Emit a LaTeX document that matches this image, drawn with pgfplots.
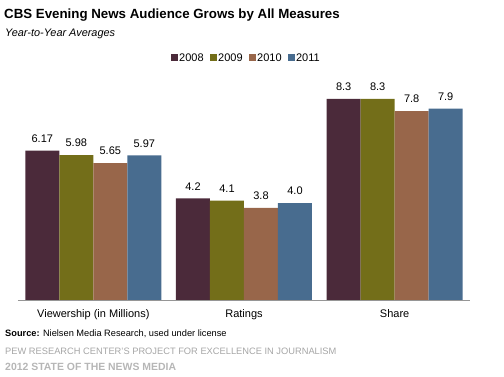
\documentclass[border=0pt]{standalone}
\usepackage{pgfplots}
\pgfplotsset{compat=1.18}
\usepackage{fontspec}
\setmainfont{Liberation Sans}
\definecolor{c08}{RGB}{75,42,58}
\definecolor{c09}{RGB}{115,110,25}
\definecolor{c10}{RGB}{152,102,74}
\definecolor{c11}{RGB}{72,108,143}
\definecolor{axgray}{RGB}{150,150,150}
\definecolor{ftgray}{RGB}{165,165,165}
\begin{document}
\begin{tikzpicture}[x=1pt,y=1pt]
\path[use as bounding box] (0,0) rectangle (504,377);
\node[anchor=base west, inner sep=0pt, font=\bfseries\fontsize{13.3}{16}\selectfont] at (4,377-18.3) {CBS Evening News Audience Grows by All Measures};
\node[anchor=base west, inner sep=0pt, font=\itshape\fontsize{10.9}{12}\selectfont] at (5,377-37) {Year-to-Year Averages};
\node[anchor=base west, inner sep=0pt, font=\fontsize{9.25}{11}\selectfont] at (5,377-337) {\textbf{Source:} Nielsen Media Research, used under license};
\node[anchor=base west, inner sep=0pt, text=ftgray, font=\fontsize{9.3}{11}\selectfont] at (5,377-355) {PEW RESEARCH CENTER'S PROJECT FOR EXCELLENCE IN JOURNALISM};
\node[anchor=base west, inner sep=0pt, text=ftgray!110!black, font=\bfseries\fontsize{10.45}{12}\selectfont] at (5,377-371) {2012 STATE OF THE NEWS MEDIA};
\begin{axis}[
  at={(18pt,77pt)}, anchor=south west,
  scale only axis, width=452pt, height=218pt,
  xmin=-0.5, xmax=2.5, ymin=0, ymax=9,
  ybar=0pt, bar width=34pt,
  axis y line=none,
  axis x line*=bottom,
  x axis line style={axgray, line width=0.8pt, -},
  xtick={0,1,2},
  xticklabels={Viewership (in Millions), Ratings, Share},
  major tick length=0pt,
  xticklabel style={anchor=base, yshift=-17.5pt, font=\fontsize{11}{13}\selectfont},
  nodes near coords,
  point meta=explicit symbolic,
  every node near coord/.append style={anchor=south, inner sep=0pt, yshift=8pt, font=\fontsize{11}{13}\selectfont, text=black},
  legend columns=4,
  legend style={draw=none, fill=none, at={(0.5,1)}, anchor=center, xshift=2pt, yshift=24pt,
    font=\fontsize{11}{13}\selectfont, inner sep=0pt,
    nodes={inner sep=1pt},
    /tikz/every even column/.append style={column sep=5.5pt}},
  legend image code/.code={\fill[#1,draw=none] (0pt,-3.5pt) rectangle (7pt,3.5pt);},
  clip=false,
]
\addplot[fill=c08, draw=none] coordinates {(0,6.17) [6.17] (1,4.2) [4.2] (2,8.3) [8.3]};
\addplot[fill=c09, draw=none] coordinates {(0,5.98) [5.98] (1,4.1) [4.1] (2,8.3) [8.3]};
\addplot[fill=c10, draw=none] coordinates {(0,5.65) [5.65] (1,3.8) [3.8] (2,7.8) [7.8]};
\addplot[fill=c11, draw=none] coordinates {(0,5.97) [5.97] (1,4.0) [4.0] (2,7.9) [7.9]};
\legend{2008,2009,2010,2011}
\end{axis}
\end{tikzpicture}
\end{document}
